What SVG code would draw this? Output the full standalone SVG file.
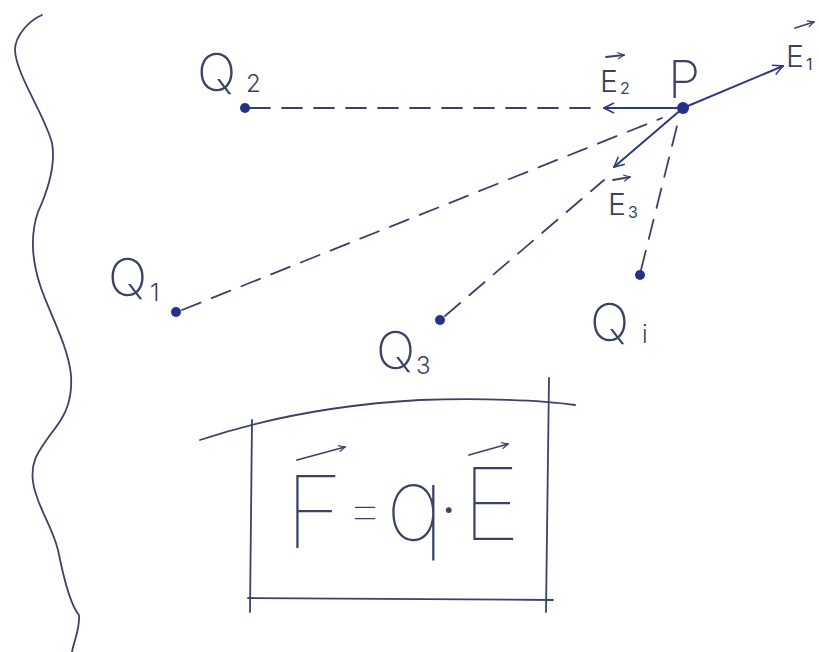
<svg xmlns="http://www.w3.org/2000/svg" width="819" height="652" viewBox="0 0 819 652">
<defs>
<style>
.pen{fill:none;stroke:#3a4266;stroke-width:1.8;stroke-linecap:round;stroke-linejoin:round}
.dash{fill:none;stroke:#3a4266;stroke-width:1.8;stroke-dasharray:20 12;stroke-linecap:round}
.vec{fill:none;stroke:#2c3a80;stroke-width:2;stroke-linecap:round}
.dot{fill:#24308a}
.t{font-family:Inter,"Liberation Sans",Arial,sans-serif;font-weight:200;fill:#3a4266}
.big{font-size:52px}
.sub{font-size:24px;font-weight:300}
.el{font-size:30px;font-weight:300}
.es{font-size:16px;font-weight:400}
.f{font-size:100px;font-weight:100}
</style>
<marker id="ah" viewBox="0 0 12 12" refX="11" refY="6" markerWidth="12" markerHeight="12" markerUnits="userSpaceOnUse" orient="auto">
<path d="M1,1 L11,6 L1,11" fill="none" stroke="#2c3a80" stroke-width="1.6"/>
</marker>
<marker id="sa" viewBox="0 0 10 10" refX="9" refY="5" markerWidth="8" markerHeight="8" markerUnits="userSpaceOnUse" orient="auto">
<path d="M1,1 L9,5 L1,9" fill="none" stroke="#3a4266" stroke-width="1.5"/>
</marker>
</defs>
<rect width="819" height="652" fill="#ffffff"/>

<path class="pen" d="M42,15 C30,20 15,35 15,50 C16,75 45,115 52,143 C56,165 48,190 38,212 C30,235 32,260 40,285 C48,310 68,345 71,375 C73,405 62,420 50,435 C40,450 30,460 33,482 C36,505 52,525 58,550 C63,575 70,605 79,615 C80,630 74,640 72,652"/>

<g id="connectors">
<line class="dash" x1="250" y1="108" x2="598" y2="108"/>
<line class="dash" x1="182" y1="310" x2="662" y2="118"/>
<line class="dash" x1="445" y1="316" x2="604" y2="180"/>
<line class="dash" x1="641" y1="270" x2="678" y2="122"/>
<line class="vec" x1="683" y1="108" x2="604" y2="108" marker-end="url(#ah)"/>
<line class="vec" x1="683" y1="108" x2="783" y2="66" marker-end="url(#ah)"/>
<line class="vec" x1="683" y1="108" x2="614" y2="167" marker-end="url(#ah)"/>
</g>

<g id="Q2">
<circle class="dot" cx="245" cy="108" r="5"/>
<text class="t big" x="197" y="91">Q</text>
<text class="t sub" x="246" y="92">2</text>
</g>
<g id="P">
<circle class="dot" cx="683" cy="108" r="6"/>
<text class="t big" x="668" y="98">P</text>
</g>
<g id="E2">
<path class="pen" d="M606,57 L624,55" marker-end="url(#sa)"/>
<text class="t el" x="600" y="92">E</text>
<text class="t es" x="620" y="94">2</text>
</g>
<g id="E1">
<path class="pen" d="M795,28 L814,22" marker-end="url(#sa)"/>
<text class="t el" x="786" y="67">E</text>
<text class="t es" x="806" y="70">1</text>
</g>
<g id="E3">
<path class="pen" d="M613,180 L630,177" marker-end="url(#sa)"/>
<text class="t el" x="608" y="215">E</text>
<text class="t es" x="628" y="218">3</text>
</g>
<g id="Q1">
<circle class="dot" cx="176" cy="312" r="5"/>
<text class="t big" x="108" y="296">Q</text>
<text class="t sub" x="150" y="301">1</text>
</g>
<g id="Q3">
<circle class="dot" cx="440" cy="320" r="5"/>
<text class="t big" x="376" y="369">Q</text>
<text class="t sub" x="416" y="374">3</text>
</g>
<g id="Qi">
<circle class="dot" cx="640" cy="275" r="5"/>
<text class="t big" x="590" y="341">Q</text>
<text class="t sub" x="642" y="343">i</text>
</g>

<g id="formula">
<path class="pen" d="M200,440 C260,420 330,405 420,400 C480,398 540,400 575,405"/>
<line class="pen" x1="252" y1="420" x2="250" y2="612"/>
<line class="pen" x1="549" y1="378" x2="546" y2="612"/>
<line class="pen" x1="248" y1="598" x2="553" y2="600"/>
<path class="pen" d="M297,460 L345,447" marker-end="url(#sa)"/>
<path class="pen" d="M469,455 L508,444" marker-end="url(#sa)"/>
<text class="t f" x="285" y="548">F</text>
<text class="t f" x="346" y="530" style="font-size:60px">=</text>
<text class="t f" x="386" y="540">q</text>
<text class="t" x="443" y="522" style="font-size:34px;font-weight:700">·</text>
<text class="t f" x="462" y="540">E</text>
</g>
</svg>
